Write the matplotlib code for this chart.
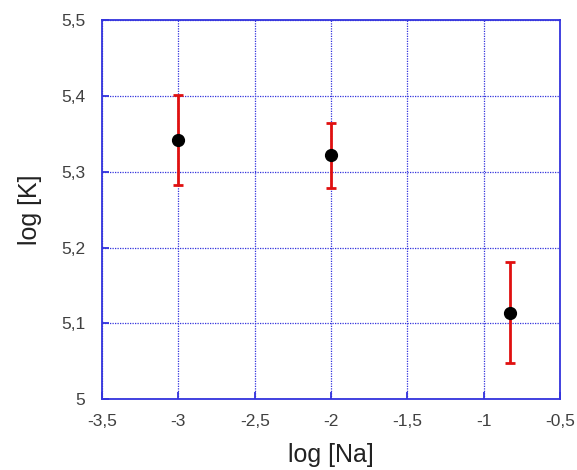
import matplotlib.pyplot as plt
from matplotlib.ticker import FuncFormatter

plt.rcParams['font.family'] = ['Liberation Sans', 'DejaVu Sans']

# data
log_na = [-3.0, -2.0, -0.83]
log_k = [5.342, 5.322, 5.114]
err = [0.059, 0.043, 0.067]

xticks = [-3.5, -3.0, -2.5, -2.0, -1.5, -1.0, -0.5]
yticks = [5.0, 5.1, 5.2, 5.3, 5.4, 5.5]

fig = plt.figure(figsize=(5.77, 4.7), dpi=100)
ax = fig.add_axes([0.177, 0.151, 0.7935, 0.8054])

blue = '#3333dd'
ax.grid(True, color=blue, linestyle=(0, (1, 1)), linewidth=0.9)
ax.set_axisbelow(True)

ax.errorbar(log_na, log_k, yerr=err, fmt='o', color='black', ms=8.5,
            ecolor='#e01010', elinewidth=2, capsize=3.5, capthick=2, zorder=3)

ax.set_xlim(-3.5, -0.5)
ax.set_ylim(5.0, 5.5)
ax.set_xticks(xticks)
ax.set_yticks(yticks)

comma = FuncFormatter(lambda v, p: ('%g' % v).replace('.', ','))
ax.xaxis.set_major_formatter(comma)
ax.yaxis.set_major_formatter(comma)

for s in ax.spines.values():
    s.set_color(blue)
    s.set_linewidth(1.3)
ax.tick_params(direction='in', length=5, width=1.3, color=blue,
               labelsize=12.5, labelcolor='#404040')
ax.tick_params(axis='x', pad=11)
ax.tick_params(axis='y', pad=12)

ax.set_xlabel('log [Na]', fontsize=18, color='#222222', labelpad=10)
ax.set_ylabel('log [K]', fontsize=18, color='#222222', labelpad=14)

fig.savefig('out.png', dpi=100)
